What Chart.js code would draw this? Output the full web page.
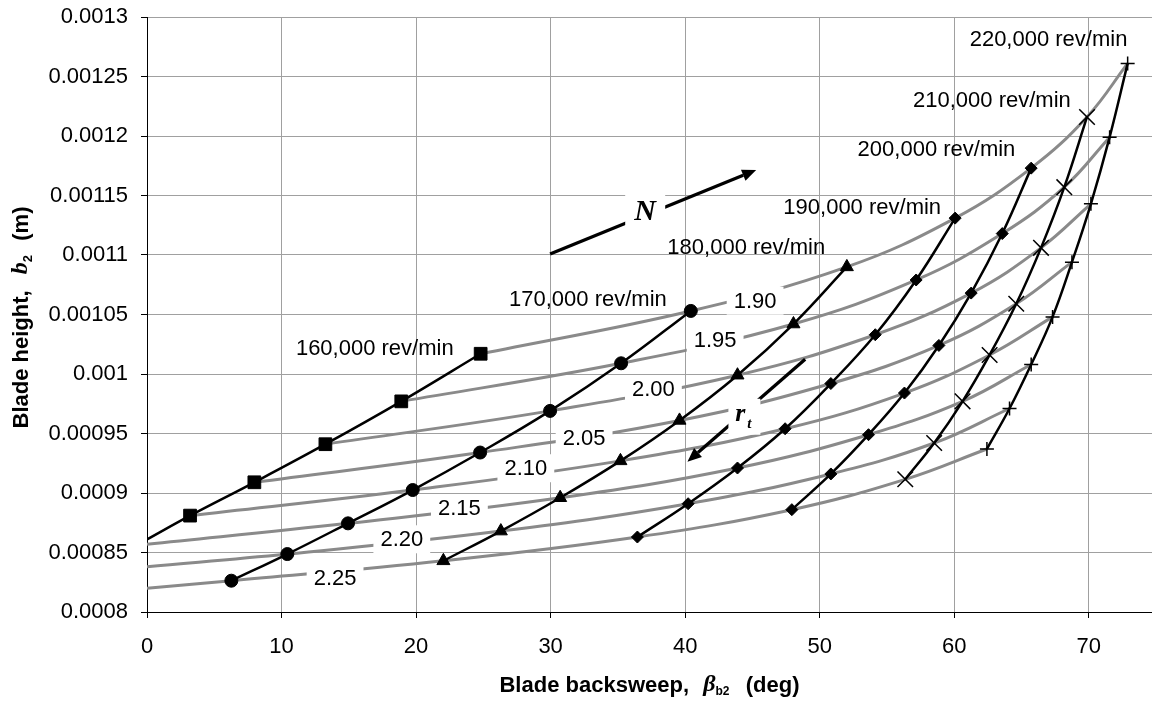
<!DOCTYPE html>
<html>
<head>
<meta charset="utf-8">
<script src="https://cdn.jsdelivr.net/npm/chart.js@4/dist/chart.umd.min.js"></script>
<style>
  html, body { margin: 0; padding: 0; background: #fff; }
  canvas { display: block; }
</style>
</head>
<body>
<canvas id="chart" width="1152" height="702" style="width:1152px;height:702px"></canvas>
<script>
// ---- data ---------------------------------------------------------------
// Each speed line is ordered from tip-radius ratio 1.90 down to 2.25.
const rtValues = ['1.90', '1.95', '2.00', '2.05', '2.10', '2.15', '2.20', '2.25'];
const speedLabels = ['160,000 rev/min', '170,000 rev/min', '180,000 rev/min', '190,000 rev/min',
                     '200,000 rev/min', '210,000 rev/min', '220,000 rev/min'];

// blade backsweep beta_b2 (deg) and blade height b2 (m)
const beta160 = [24.8, 18.9, 13.26, 7.98, 3.2, 0];
const b2_160  = [0.001017, 0.000977, 0.000941, 0.000909, 0.000881, 0.000861];
const beta170 = [40.42, 35.24, 29.96, 24.76, 19.75, 14.94, 10.43, 6.27];
const b2_170  = [0.001053, 0.001009, 0.000969, 0.000934, 0.0009025, 0.0008745, 0.0008487, 0.0008263];
const beta180 = [52.02, 48.05, 43.89, 39.58, 35.19, 30.71, 26.3, 22.03];
const b2_180  = [0.00109, 0.001042, 0.000999, 0.000961, 0.000927, 0.000896, 0.000868, 0.000843];
const beta190 = [60.07, 57.17, 54.13, 50.83, 47.43, 43.89, 40.22, 36.45];
const b2_190  = [0.001131, 0.001079, 0.001033, 0.000992, 0.000954, 0.000921, 0.000891, 0.000863];
const beta200 = [65.72, 63.57, 61.26, 58.86, 56.3, 53.63, 50.83, 47.93];
const b2_200  = [0.001173, 0.001118, 0.001068, 0.001024, 0.000984, 0.000949, 0.000916, 0.000886];
const beta210 = [69.87, 68.18, 66.45, 64.61, 62.63, 60.62, 58.51, 56.36];
const b2_210  = [0.001216, 0.001157, 0.001106, 0.001059, 0.001016, 0.000977, 0.000942, 0.0009115];
const beta220 = [72.89, 71.55, 70.16, 68.75, 67.31, 65.72, 64.11, 62.43];
const b2_220  = [0.001261, 0.001199, 0.001143, 0.001094, 0.001048, 0.001008, 0.000971, 0.000937];

// blade height where the 2.15 / 2.20 / 2.25 ratio lines cross beta_b2 = 0
const b2AtZeroBeta = [null, null, null, null, null, 0.000857, 0.000838, 0.00082];

const xTickValues = [0, 10, 20, 30, 40, 50, 60, 70];
const xTickLabels = ['0', '10', '20', '30', '40', '50', '60', '70'];
const yTickValues = [0.0008, 0.00085, 0.0009, 0.00095, 0.001, 0.00105, 0.0011, 0.00115, 0.0012, 0.00125, 0.0013];
const yTickLabels = ['0.0008', '0.00085', '0.0009', '0.00095', '0.001', '0.00105', '0.0011', '0.00115', '0.0012', '0.00125', '0.0013'];

// ---- styling ------------------------------------------------------------
const FONT = '"Liberation Sans", Arial, Helvetica, sans-serif';
const SERIF = '"Liberation Serif", "Times New Roman", serif';
const GRID = '#a0a0a0';
const RATIO_GREY = '#8a8a8a';

const speedBeta = [beta160, beta170, beta180, beta190, beta200, beta210, beta220];
const speedB2 = [b2_160, b2_170, b2_180, b2_190, b2_200, b2_210, b2_220];
const markerStyle = [
  { style: 'rect', r: 9, bw: 1 },
  { style: 'circle', r: 6.5, bw: 1 },
  { style: 'triangle', r: 7.5, bw: 1 },
  { style: 'rectRot', r: 6, bw: 1 },
  { style: 'rectRot', r: 6, bw: 1 },
  { style: 'crossRot', r: 11, bw: 1.5 },
  { style: 'cross', r: 7, bw: 1.5 }
];

// annotation anchors, in axis units
const speedLabelAt = [[16.93, 0.0010216], [32.77, 0.0010628], [44.54, 0.0011065], [53.16, 0.0011401],
                      [58.68, 0.0011888], [62.80, 0.0012302], [67.01, 0.0012815]];
const rtLabelAt = [[45.2, 0.0010616], [42.23, 0.0010286], [37.64, 0.0009871], [32.49, 0.000946],
                   [28.16, 0.0009208], [23.22, 0.0008871], [18.94, 0.0008611], [13.98, 0.0008283]];
const speedArrow = { from: [29.96, 0.0011008], to: [45.28, 0.0011714], label: [37.03, 0.0011364] };
const ratioArrow = { from: [48.92, 0.0010123], to: [40.17, 0.0009263], label: [44.33, 0.0009641] };

// ---- datasets -----------------------------------------------------------
const datasets = [];

speedLabels.forEach((name, s) => {
  const m = markerStyle[s];
  const pts = speedBeta[s].map((b, i) => ({ x: b, y: speedB2[s][i] }));
  datasets.push({
    label: name,
    data: pts,
    showLine: true,
    borderColor: '#000',
    borderWidth: 2.5,
    tension: 0.4,
    pointStyle: m.style,
    pointRadius: pts.map(p => (p.x === 0 ? 0 : m.r)),
    pointBackgroundColor: '#000',
    pointBorderColor: '#000',
    pointBorderWidth: m.bw,
    order: 1
  });
});

rtValues.forEach((rt, i) => {
  const pts = [];
  if (i < beta160.length - 1) pts.push({ x: beta160[i], y: b2_160[i] });
  else pts.push({ x: 0, y: b2AtZeroBeta[i] });
  for (let s = 1; s < speedBeta.length; s++) pts.push({ x: speedBeta[s][i], y: speedB2[s][i] });
  datasets.push({
    label: 'r_t = ' + rt,
    data: pts,
    showLine: true,
    borderColor: RATIO_GREY,
    borderWidth: 3,
    tension: 0.4,
    pointRadius: 0,
    order: 2
  });
});

// ---- drawing helpers ----------------------------------------------------
function drawArrow(ctx, x1, y1, x2, y2) {
  const ang = Math.atan2(y2 - y1, x2 - x1);
  const head = 14, half = 6;
  const bx = x2 - head * Math.cos(ang), by = y2 - head * Math.sin(ang);
  ctx.strokeStyle = '#000';
  ctx.lineWidth = 3.3;
  ctx.beginPath();
  ctx.moveTo(x1, y1);
  ctx.lineTo(bx, by);
  ctx.stroke();
  ctx.fillStyle = '#000';
  ctx.beginPath();
  ctx.moveTo(x2, y2);
  ctx.lineTo(bx + half * Math.sin(ang), by - half * Math.cos(ang));
  ctx.lineTo(bx - half * Math.sin(ang), by + half * Math.cos(ang));
  ctx.closePath();
  ctx.fill();
}

// pieces: [{text, font, dy}] drawn left to right, centred on (0,0)
function drawRich(ctx, pieces) {
  let total = 0;
  pieces.forEach(p => { ctx.font = p.font; p.w = ctx.measureText(p.text).width + (p.gap || 0); total += p.w; });
  let x = -total / 2;
  ctx.textAlign = 'left';
  ctx.textBaseline = 'middle';
  ctx.fillStyle = '#000';
  pieces.forEach(p => { ctx.font = p.font; ctx.fillText(p.text, x, p.dy || 0); x += p.w; });
}

const annotate = {
  id: 'annotate',
  afterDatasetsDraw(chart) {
    const { ctx } = chart;
    const xs = chart.scales.x, ys = chart.scales.y;
    const px = v => xs.getPixelForValue(v), py = v => ys.getPixelForValue(v);
    ctx.save();

    // ratio labels sit in white boxes that interrupt the grey lines
    ctx.font = '22px ' + FONT;
    ctx.textAlign = 'center';
    ctx.textBaseline = 'middle';
    rtValues.forEach((t, i) => {
      const cx = px(rtLabelAt[i][0]), cy = py(rtLabelAt[i][1]);
      const w = ctx.measureText(t).width + 14, h = 28;
      ctx.fillStyle = '#fff';
      ctx.fillRect(cx - w / 2, cy - h / 2, w, h);
      ctx.fillStyle = '#000';
      ctx.fillText(t, cx, cy + 1);
    });

    // speed labels
    speedLabels.forEach((t, s) => {
      ctx.fillStyle = '#000';
      ctx.fillText(t, px(speedLabelAt[s][0]), py(speedLabelAt[s][1]) + 1);
    });

    // direction of increasing speed N
    drawArrow(ctx, px(speedArrow.from[0]), py(speedArrow.from[1]), px(speedArrow.to[0]), py(speedArrow.to[1]));
    let lx = px(speedArrow.label[0]), ly = py(speedArrow.label[1]);
    ctx.fillStyle = '#fff';
    ctx.fillRect(lx - 20, ly - 17, 40, 34);
    ctx.fillStyle = '#000';
    ctx.font = 'italic bold 30px ' + SERIF;
    ctx.textAlign = 'center';
    ctx.fillText('N', lx, ly + 1);

    // direction of increasing tip radius ratio r_t
    drawArrow(ctx, px(ratioArrow.from[0]), py(ratioArrow.from[1]), px(ratioArrow.to[0]), py(ratioArrow.to[1]));
    lx = px(ratioArrow.label[0]); ly = py(ratioArrow.label[1]);
    ctx.fillStyle = '#fff';
    ctx.fillRect(lx - 15, ly - 18, 32, 36);
    ctx.fillStyle = '#000';
    ctx.font = 'italic bold 26px ' + SERIF;
    ctx.textAlign = 'center';
    ctx.fillText('r', lx - 3, ly - 2);
    ctx.font = 'italic bold 15px ' + SERIF;
    ctx.fillText('t', lx + 6, ly + 7);

    ctx.restore();
  },
  afterDraw(chart) {
    const { ctx, chartArea } = chart;
    ctx.save();
    // x-axis title
    ctx.translate((chartArea.left + chartArea.right) / 2 + 4, 686);
    drawRich(ctx, [
      { text: 'Blade backsweep,  ', font: 'bold 22px ' + FONT, gap: 2 },
      { text: '\u03B2', font: 'italic bold 24px ' + SERIF, dy: -1 },
      { text: 'b2', font: 'bold 12px ' + FONT, dy: 6, gap: 4 },
      { text: '  (deg)', font: 'bold 22px ' + FONT, gap: 8 }
    ]);
    ctx.restore();

    ctx.save();
    // y-axis title
    ctx.translate(22, (chartArea.top + chartArea.bottom) / 2);
    ctx.rotate(-Math.PI / 2);
    drawRich(ctx, [
      { text: 'Blade height,  ', font: 'bold 22px ' + FONT, gap: 4 },
      { text: 'b', font: 'italic bold 24px ' + SERIF, dy: -1 },
      { text: '2', font: 'bold 13px ' + FONT, dy: 6, gap: 2 },
      { text: '  (m)', font: 'bold 22px ' + FONT, gap: 6 }
    ]);
    ctx.restore();
  }
};

// the plot box is fixed: labels may overhang it without shrinking it
function noOverhang(s) {
  s.paddingTop = 0; s.paddingBottom = 0; s.paddingLeft = 0; s.paddingRight = 0;
}

// ---- chart --------------------------------------------------------------
new Chart(document.getElementById('chart'), {
  type: 'scatter',
  data: { datasets },
  options: {
    responsive: false,
    animation: false,
    events: [],
    layout: { autoPadding: false, padding: { top: 17, right: 0, bottom: 0, left: 0 } },
    plugins: { legend: { display: false }, tooltip: { enabled: false } },
    scales: {
      x: {
        type: 'linear',
        min: 0,
        max: 74.7,
        afterBuildTicks: s => { s.ticks = xTickValues.map(v => ({ value: v })); },
        afterFit: s => { s.height = 90; noOverhang(s); },
        grid: { color: GRID, lineWidth: 1, tickColor: '#000', tickLength: 6 },
        border: { color: '#000', width: 1 },
        ticks: {
          font: { family: FONT, size: 22 },
          color: '#000',
          padding: 16,
          maxRotation: 0,
          autoSkip: false,
          callback: (v, i) => xTickLabels[i]
        }
      },
      y: {
        type: 'linear',
        min: 0.0008,
        max: 0.0013,
        afterBuildTicks: s => { s.ticks = yTickValues.map(v => ({ value: v })); },
        afterFit: s => { s.width = 147; noOverhang(s); },
        grid: { color: GRID, lineWidth: 1, tickColor: '#000', tickLength: 6 },
        border: { color: '#000', width: 1 },
        ticks: {
          font: { family: FONT, size: 22 },
          color: '#000',
          padding: 13,
          autoSkip: false,
          callback: (v, i) => yTickLabels[i]
        }
      }
    }
  },
  plugins: [annotate]
});
</script>
</body>
</html>
